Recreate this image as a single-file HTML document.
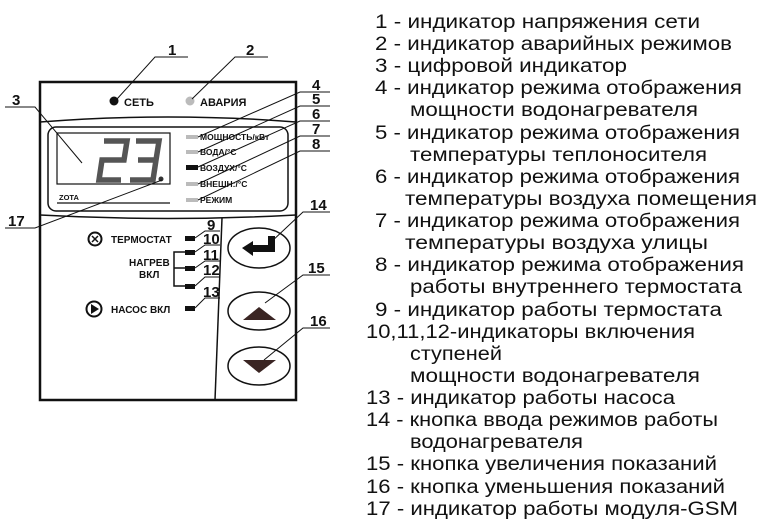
<!DOCTYPE html>
<html><head><meta charset="utf-8"><style>
html,body{margin:0;padding:0;background:#fff;}
svg{display:block;}
text{font-family:"Liberation Sans",sans-serif;fill:#111;}
.b{font-weight:bold;}
</style></head><body>
<svg width="762" height="528" viewBox="0 0 762 528" xmlns="http://www.w3.org/2000/svg">
<rect x="40" y="82" width="256" height="318" fill="none" stroke="#111" stroke-width="2.5"/>
<path d="M40 122 Q168 112 296 122" fill="none" stroke="#111" stroke-width="1.5"/>
<rect x="48" y="127" width="240" height="84" rx="8" fill="none" stroke="#111" stroke-width="1.5"/>
<path d="M40 215 Q168 222 296 215" fill="none" stroke="#111" stroke-width="1.5"/>
<path d="M222 218 L215 400" fill="none" stroke="#111" stroke-width="1.5"/>
<circle cx="114" cy="101" r="4.5" fill="#111"/>
<text x="124" y="106" font-weight="bold" font-size="11">СЕТЬ</text>
<circle cx="190" cy="101" r="4.5" fill="#bbb"/>
<text x="200" y="106" font-weight="bold" font-size="11">АВАРИЯ</text>
<rect x="57" y="133" width="113" height="51" fill="none" stroke="#111" stroke-width="1.2"/>
<g fill="none" stroke="#555" stroke-width="5.5" stroke-linejoin="miter">
<path d="M104 141 L127 141 L124 160 L102 160 L99 180 L121 180"/>
<path d="M136 141 L159 141 L156 160 L138 160 M156 160 L153 180 L130 180"/>
</g>
<circle cx="161" cy="179" r="2.5" fill="#333"/>
<text x="59" y="200" font-weight="bold" font-size="7.5">ZOTA</text>
<line x1="57" y1="203" x2="170" y2="203" stroke="#111" stroke-width="1.2"/>
<g fill="#bbb">
<rect x="186" y="135" width="12" height="4"/>
<rect x="186" y="150" width="12" height="4"/>
<rect x="186" y="182" width="12" height="4"/>
<rect x="186" y="198" width="12" height="4"/>
</g>
<rect x="186" y="165" width="12" height="5" fill="#111"/>
<g font-weight="bold" font-size="8.5">
<text x="200" y="140">МОЩНОСТЬ/кВт</text>
<text x="200" y="155">ВОДА/°С</text>
<text x="200" y="171">ВОЗДУХ/°С</text>
<text x="200" y="187">ВНЕШН:/°С</text>
<text x="200" y="203">РЕЖИМ</text>
</g>
<circle cx="95" cy="239" r="6.5" fill="none" stroke="#111" stroke-width="2"/>
<path d="M92 236 L98 242 M98 236 L92 242" stroke="#111" stroke-width="1.5"/>
<text x="111" y="243" font-weight="bold" font-size="10">ТЕРМОСТАТ</text>
<text x="129" y="266" font-weight="bold" font-size="10">НАГРЕВ</text>
<text x="139" y="278" font-weight="bold" font-size="10">ВКЛ</text>
<circle cx="94" cy="309" r="7.5" fill="none" stroke="#111" stroke-width="2"/>
<path d="M91 304 L99 309 L91 314 Z" fill="#111"/>
<text x="111" y="313" font-weight="bold" font-size="10">НАСОС  ВКЛ</text>
<g fill="#111">
<rect x="185" y="236" width="10" height="5"/>
<rect x="185" y="250" width="10" height="5"/>
<rect x="185" y="266" width="10" height="5"/>
<rect x="185" y="284" width="10" height="5"/>
<rect x="185" y="306" width="10" height="5"/>
</g>
<path d="M185 252 H174 V286 H185 M174 268 H185" fill="none" stroke="#111" stroke-width="1.5"/>
<g fill="none" stroke="#111" stroke-width="1.5">
<ellipse cx="259" cy="248" rx="31" ry="20"/>
<ellipse cx="259" cy="311" rx="31" ry="19"/>
<ellipse cx="259" cy="366" rx="31" ry="19"/>
</g>
<path d="M242 248 L253 241 L253 245 L268 245 L268 236 L275 236 L275 252 L253 252 L253 256 Z" fill="#111"/>
<path d="M243 320 L259 307 L276 320 Z" fill="#3a2523"/>
<path d="M243 360 L276 360 L259 373 Z" fill="#3a2523"/>
<g stroke="#111" stroke-width="1" fill="none">
<path d="M117 99 L155 57 H188"/>
<path d="M192 99 L235 57 H268"/>
<path d="M82 163 L35 107 H5"/>
<path d="M162 180 L35 228 H5"/>
<path d="M198 137 L300 92 H330"/>
<path d="M198 152 L300 106 H330"/>
<path d="M198 167 L300 121 H330"/>
<path d="M198 184 L300 136 H330"/>
<path d="M198 200 L300 151 H330"/>
<path d="M195 238 L205 231 H220"/>
<path d="M195 252 L205 245 H220"/>
<path d="M195 268 L205 261 H220"/>
<path d="M195 286 L205 277 H220"/>
<path d="M195 308 L205 298 H220"/>
<path d="M270 243 L303 212 H330"/>
<path d="M265 303 L303 275 H330"/>
<path d="M264 360 L303 328 H330"/>
</g>
<g font-weight="bold" font-size="15">
<text x="168" y="55">1</text>
<text x="246" y="55">2</text>
<text x="12" y="105">3</text>
<text x="312" y="90">4</text>
<text x="312" y="104">5</text>
<text x="312" y="119">6</text>
<text x="312" y="134">7</text>
<text x="312" y="149">8</text>
<text x="8" y="226">17</text>
<text x="207" y="230">9</text>
<text x="203" y="244">10</text>
<text x="203" y="260">11</text>
<text x="203" y="275">12</text>
<text x="203" y="297">13</text>
<text x="310" y="210">14</text>
<text x="308" y="273">15</text>
<text x="310" y="326">16</text>
</g>
<g font-size="19">
<text x="375" y="28" textLength="325" lengthAdjust="spacingAndGlyphs">1 - индикатор напряжения сети</text>
<text x="375" y="50" textLength="357" lengthAdjust="spacingAndGlyphs">2 - индикатор аварийных режимов</text>
<text x="375" y="72" textLength="252" lengthAdjust="spacingAndGlyphs">3 - цифровой индикатор</text>
<text x="375" y="94" textLength="367" lengthAdjust="spacingAndGlyphs">4 - индикатор режима отображения</text>
<text x="410" y="116" textLength="288" lengthAdjust="spacingAndGlyphs">мощности  водонагревателя</text>
<text x="375" y="139" textLength="365" lengthAdjust="spacingAndGlyphs">5 - индикатор режима отображения</text>
<text x="410" y="161" textLength="297" lengthAdjust="spacingAndGlyphs">температуры  теплоносителя</text>
<text x="375" y="183" textLength="365" lengthAdjust="spacingAndGlyphs">6 - индикатор режима отображения</text>
<text x="405" y="205" textLength="352" lengthAdjust="spacingAndGlyphs">температуры  воздуха помещения</text>
<text x="375" y="227" textLength="365" lengthAdjust="spacingAndGlyphs">7 - индикатор режима отображения</text>
<text x="405" y="249" textLength="303" lengthAdjust="spacingAndGlyphs">температуры  воздуха улицы</text>
<text x="375" y="271" textLength="369" lengthAdjust="spacingAndGlyphs">8 - индикатор режима отображения</text>
<text x="410" y="293" textLength="332" lengthAdjust="spacingAndGlyphs">работы внутреннего термостата</text>
<text x="375" y="316" textLength="347" lengthAdjust="spacingAndGlyphs">9 - индикатор работы термостата</text>
<text x="366" y="338" textLength="329" lengthAdjust="spacingAndGlyphs">10,11,12-индикаторы включения</text>
<text x="410" y="360" textLength="92" lengthAdjust="spacingAndGlyphs">ступеней</text>
<text x="410" y="382" textLength="290" lengthAdjust="spacingAndGlyphs">мощности  водонагревателя</text>
<text x="366" y="404" textLength="309" lengthAdjust="spacingAndGlyphs">13 - индикатор работы насоса</text>
<text x="366" y="426" textLength="352" lengthAdjust="spacingAndGlyphs">14 - кнопка ввода режимов работы</text>
<text x="410" y="448" textLength="173" lengthAdjust="spacingAndGlyphs">водонагревателя</text>
<text x="366" y="470" textLength="351" lengthAdjust="spacingAndGlyphs">15 - кнопка увеличения показаний</text>
<text x="366" y="493" textLength="359" lengthAdjust="spacingAndGlyphs">16 - кнопка уменьшения показаний</text>
<text x="366" y="515" textLength="372" lengthAdjust="spacingAndGlyphs">17 - индикатор работы модуля-GSM</text>
</g>
</svg>
</body></html>
